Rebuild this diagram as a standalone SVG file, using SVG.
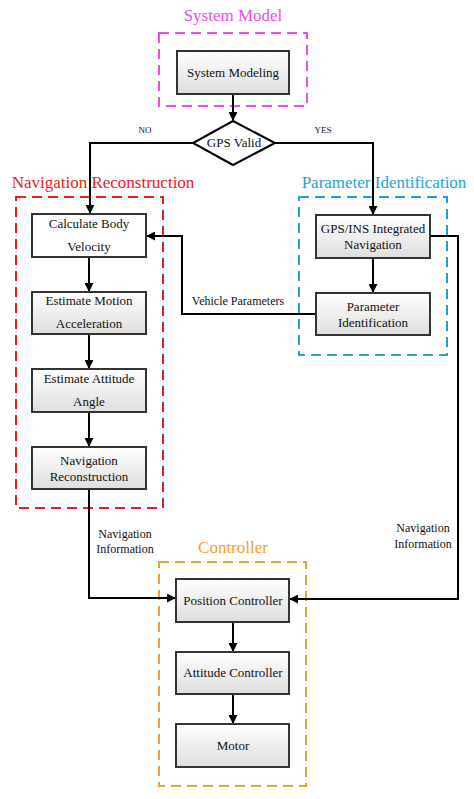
<svg xmlns="http://www.w3.org/2000/svg" width="474" height="799" viewBox="0 0 474 799" font-family="'Liberation Serif', 'Times New Roman', 'DejaVu Serif', serif">
<style>
.box{fill:url(#g);stroke:#333;stroke-width:2}
.wbox{fill:#fff;stroke:#333;stroke-width:2}
text{font-family:'Liberation Serif','Times New Roman','DejaVu Serif',serif}
.t{font-size:13px;fill:#111;text-anchor:middle}
.s{font-size:12px;fill:#111;text-anchor:middle}
.sm{font-size:9px;fill:#111;text-anchor:middle}
.title{font-size:17px;text-anchor:middle}
.grp{fill:none;stroke-width:2;stroke-dasharray:10 6}
.c{fill:none;stroke:#000;stroke-width:2}
</style>
<defs>
<linearGradient id="g" x1="0" y1="0" x2="0" y2="1">
<stop offset="0" stop-color="#ffffff"/>
<stop offset="1" stop-color="#dedede"/>
</linearGradient>
<marker id="ah" viewBox="0 0 10 10" refX="9" refY="5" markerWidth="4.5" markerHeight="4.5" orient="auto" markerUnits="strokeWidth">
<path d="M0,0 L10,5 L0,10 z" fill="#000"/>
</marker>
</defs>
<g id="group-system-model">
<rect class="grp" x="159" y="33" width="148" height="73" stroke="#e84fe8"/>
<text class="title" x="233" y="21" fill="#e84fe8">System Model</text>
</g>
<g id="group-nav-reconstruction">
<rect class="grp" x="16" y="197" width="147" height="311" stroke="#e02424"/>
<text class="title" x="103" y="188" fill="#e02424">Navigation Reconstruction</text>
</g>
<g id="group-param-id">
<rect class="grp" x="299" y="197" width="148" height="158" stroke="#1ea2dc"/>
<text class="title" x="384" y="188" fill="#1ea2dc">Parameter Identification</text>
</g>
<g id="group-controller">
<rect class="grp" x="159" y="562" width="147" height="224" stroke="#f0a030"/>
<text class="title" x="233" y="553" fill="#f0a030">Controller</text>
</g>
<g id="connectors">
<line class="c" x1="233" y1="94" x2="233" y2="120" marker-end="url(#ah)"/>
<polyline class="c" points="193,143 90,143 90,213" marker-end="url(#ah)"/>
<polyline class="c" points="275,143 373,143 373,214" marker-end="url(#ah)"/>
<line class="c" x1="89" y1="257" x2="89" y2="291" marker-end="url(#ah)"/>
<line class="c" x1="89" y1="334" x2="89" y2="368" marker-end="url(#ah)"/>
<line class="c" x1="89" y1="412" x2="89" y2="446" marker-end="url(#ah)"/>
<line class="c" x1="373" y1="258" x2="373" y2="292" marker-end="url(#ah)"/>
<polyline class="c" points="316,314 182,314 182,236 147,236" marker-end="url(#ah)"/>
<polyline class="c" points="89,489 89,598 175,598" marker-end="url(#ah)"/>
<polyline class="c" points="430,236 458,236 458,599 290,599" marker-end="url(#ah)"/>
<line class="c" x1="233" y1="622" x2="233" y2="651" marker-end="url(#ah)"/>
<line class="c" x1="233" y1="694" x2="233" y2="723" marker-end="url(#ah)"/>
<text class="sm" x="145" y="133">NO</text>
<text class="sm" x="323" y="133">YES</text>
<text class="s" x="238" y="305">Vehicle Parameters</text>
<text class="s" x="125" y="538">Navigation</text>
<text class="s" x="125" y="553">Information</text>
<text class="s" x="423" y="532">Navigation</text>
<text class="s" x="423" y="548">Information</text>
</g>
<g id="node-system-modeling">
<rect class="box" x="177" y="51" width="112" height="43"/>
<text class="t" x="233" y="77">System Modeling</text>
</g>
<g id="node-gps-valid">
<polygon points="233,121 275,143 233,165 193,143" fill="#fff" stroke="#000" stroke-width="2"/>
<text class="t" x="234" y="147">GPS Valid</text>
</g>
<g id="node-calc-velocity">
<rect class="wbox" x="32" y="214" width="114" height="43"/>
<text class="t" x="89" y="228">Calculate Body</text>
<text class="t" x="89" y="251">Velocity</text>
</g>
<g id="node-est-accel">
<rect class="box" x="32" y="292" width="114" height="42"/>
<text class="t" x="89" y="305">Estimate Motion</text>
<text class="t" x="89" y="328">Acceleration</text>
</g>
<g id="node-est-attitude">
<rect class="box" x="32" y="369" width="114" height="43"/>
<text class="t" x="89" y="383">Estimate Attitude</text>
<text class="t" x="89" y="406">Angle</text>
</g>
<g id="node-nav-recon">
<rect class="box" x="32" y="447" width="114" height="42"/>
<text class="t" x="89" y="465">Navigation</text>
<text class="t" x="89" y="481">Reconstruction</text>
</g>
<g id="node-gps-ins">
<rect class="box" x="316" y="215" width="114" height="43"/>
<text class="t" x="373" y="233">GPS/INS Integrated</text>
<text class="t" x="373" y="249">Navigation</text>
</g>
<g id="node-param-ident">
<rect class="box" x="316" y="293" width="114" height="42"/>
<text class="t" x="373" y="311">Parameter</text>
<text class="t" x="373" y="327">Identification</text>
</g>
<g id="node-position-ctrl">
<rect class="box" x="176" y="579" width="113" height="43"/>
<text class="t" x="233" y="605">Position Controller</text>
</g>
<g id="node-attitude-ctrl">
<rect class="box" x="176" y="652" width="113" height="42"/>
<text class="t" x="233" y="677">Attitude Controller</text>
</g>
<g id="node-motor">
<rect class="box" x="176" y="724" width="113" height="43"/>
<text class="t" x="233" y="750">Motor</text>
</g>
</svg>
